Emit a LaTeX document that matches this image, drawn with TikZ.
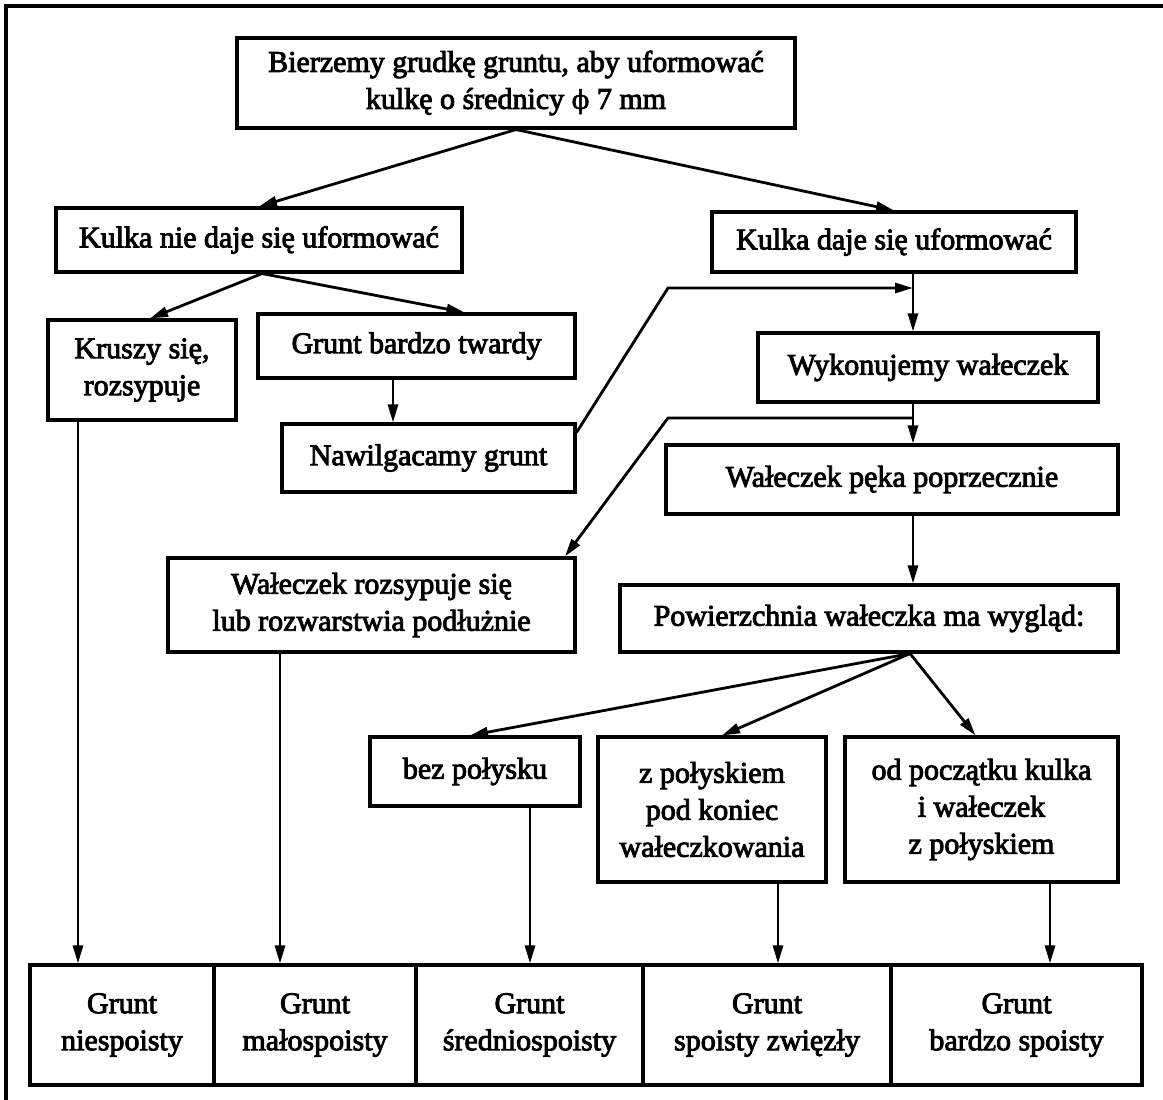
\documentclass[tikz,border=0pt]{standalone}
\usepackage{fontspec}
\setmainfont{Liberation Serif}[FakeBold=3]
\newfontfamily\phifont{DejaVu Serif}[FakeBold=2]
\usetikzlibrary{arrows.meta,calc}
\begin{document}
\begin{tikzpicture}[x=1pt,y=-1pt,
  box/.style={draw,line width=3.1pt,rectangle,align=center,inner sep=0pt,
    font=\fontsize{30}{37}\selectfont},
  arr/.style={line width=2.8pt,-{Triangle[length=18pt,width=10pt]}}]
\useasboundingbox (0,0) rectangle (1163,1100);
% outer frame (partial)
\draw[line width=3.4pt] (6,1100) -- (6,6) -- (1163,6);
% boxes: centre, width, height
\node[box,minimum width=558pt,minimum height=90pt] (top) at (516,83)
  {Bierzemy grudkę gruntu, aby uformować\\kulkę o średnicy {\phifont\fontsize{26}{37}\selectfont ϕ} 7 mm};
\node[box,minimum width=406pt,minimum height=64pt] (knie) at (259,240) {Kulka nie daje się uformować};
\node[box,minimum width=364pt,minimum height=60pt] (kdaje) at (894,242) {Kulka daje się uformować};
\node[box,minimum width=188pt,minimum height=100pt] (krusz) at (142,370) {Kruszy się,\\rozsypuje};
\node[box,minimum width=317pt,minimum height=64pt] (gbt) at (416.5,346) {Grunt bardzo twardy};
\node[box,minimum width=293pt,minimum height=68pt] (nawil) at (428.5,458) {Nawilgacamy grunt};
\node[box,minimum width=340pt,minimum height=69pt] (wyk) at (928,367.5) {Wykonujemy wałeczek};
\node[box,minimum width=452pt,minimum height=69pt] (peka) at (892,479.5) {Wałeczek pęka poprzecznie};
\node[box,minimum width=407pt,minimum height=94pt] (rozs) at (371.5,605) {Wałeczek rozsypuje się\\lub rozwarstwia podłużnie};
\node[box,minimum width=498pt,minimum height=67pt] (pow) at (869,618.5) {Powierzchnia wałeczka ma wygląd:};
\node[box,minimum width=210pt,minimum height=69pt] (bez) at (475,771.5) {bez połysku};
\node[box,minimum width=228pt,minimum height=145pt] (zpol) at (712,809.5) {z połyskiem\\pod koniec\\wałeczkowania};
\node[box,minimum width=273pt,minimum height=145pt] (odp) at (981.5,809.5) {od początku kulka\\i wałeczek\\z połyskiem};
% bottom row
\node[box,minimum width=184pt,minimum height=120pt] (g1) at (122,1025) {Grunt\\niespoisty};
\node[box,minimum width=202pt,minimum height=120pt] (g2) at (315,1025) {Grunt\\małospoisty};
\node[box,minimum width=227pt,minimum height=120pt] (g3) at (529.5,1025) {Grunt\\średniospoisty};
\node[box,minimum width=248pt,minimum height=120pt] (g4) at (767,1025) {Grunt\\spoisty zwięzły};
\node[box,minimum width=251pt,minimum height=120pt] (g5) at (1016.5,1025) {Grunt\\bardzo spoisty};
% helper positions
\coordinate (vx) at (913,0);
\coordinate (px) at (910,0);
\coordinate (j1) at (913,288);
\coordinate (b1) at (668,288);
\coordinate (j2) at (913,418);
\coordinate (b2) at (668,418);
\coordinate (rx) at (565,0);
\coordinate (kx) at (262,0);
\coordinate (gx) at (393,0);
\coordinate (c1) at (78,0);
\coordinate (c2) at (280,0);
\coordinate (c3) at (530,0);
\coordinate (c4) at (778,0);
\coordinate (c5) at (1050,0);
% connectors
\draw[arr] (top.south) -- (knie.north);
\draw[arr] (top.south) -- (kdaje.north);
\draw[arr] (knie.south -| kx) -- ([xshift=8pt]krusz.north);
\draw[arr] (knie.south -| kx) -- ([xshift=48pt]gbt.north);
\draw[arr] (gbt.south -| gx) -- (nawil.north -| gx);
\draw[arr] (kdaje.south -| vx) -- (wyk.north -| vx);
\draw[arr] ([yshift=-10pt]nawil.north east) -- (b1) -- (j1);
\draw[arr] (wyk.south -| vx) -- (peka.north -| vx);
\draw[arr] (j2) -- (b2) -- (rozs.north -| rx);
\draw[arr] (peka.south -| vx) -- (pow.north -| vx);
\draw[arr] (pow.south -| px) -- ([xshift=-5pt]bez.north);
\draw[arr] (pow.south -| px) -- ([xshift=10pt]zpol.north);
\draw[arr] (pow.south -| px) -- ([xshift=-6pt]odp.north);
\draw[arr] (krusz.south -| c1) -- (g1.north -| c1);
\draw[arr] (rozs.south -| c2) -- (g2.north -| c2);
\draw[arr] (bez.south -| c3) -- (g3.north -| c3);
\draw[arr] (zpol.south -| c4) -- (g4.north -| c4);
\draw[arr] (odp.south -| c5) -- (g5.north -| c5);
\end{tikzpicture}
\end{document}
